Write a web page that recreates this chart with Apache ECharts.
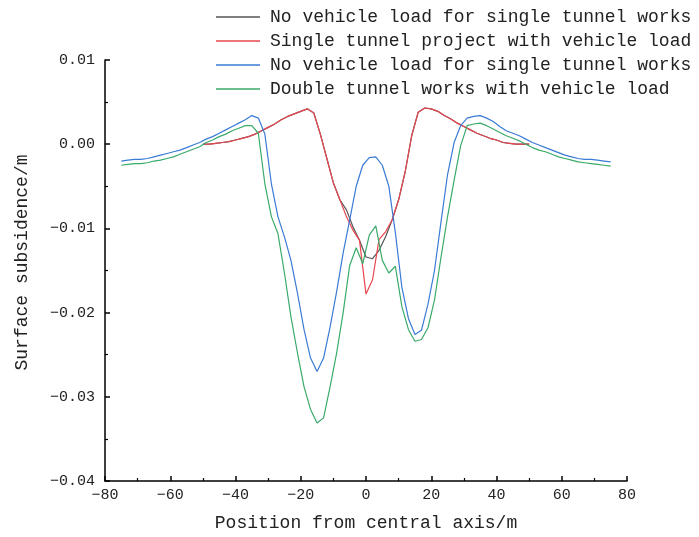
<!DOCTYPE html>
<html>
<head>
<meta charset="utf-8">
<script src="https://cdn.jsdelivr.net/npm/echarts@6/dist/echarts.min.js"></script>
<style>
  html, body { margin: 0; padding: 0; background: #fff; }
  #chart { width: 699px; height: 537px; }
</style>
</head>
<body>
<div id="chart"></div>
<script>
// x positions (m)
const xSingle = [];
for (let x = -50; x <= 50; x += 2) xSingle.push(x);
const xDouble = [];
for (let x = -75; x <= 75; x += 2) xDouble.push(x);

// single tunnel, no vehicle load (black)
const singleNoLoad = [
  0.0000, 0.0000, 0.0001, 0.0002, 0.0003, 0.0005, 0.0007, 0.0009, 0.0012, 0.0016,
  0.0020, 0.0024, 0.0029, 0.0033, 0.0036, 0.0039, 0.0042, 0.0037, 0.0012, -0.0017,
  -0.0046, -0.0066, -0.0078, -0.0098, -0.0114, -0.0134, -0.0136, -0.0126, -0.0110, -0.0090,
  -0.0066, -0.0033, 0.0010, 0.0038, 0.0043, 0.0042, 0.0039, 0.0034, 0.0030, 0.0025,
  0.0021, 0.0017, 0.0013, 0.0010, 0.0007, 0.0005, 0.0002, 0.0001, 0.0000, 0.0000,
  0.0000
];
// single tunnel, with vehicle load (red)
const singleLoad = [
  0.0000, 0.0000, 0.0001, 0.0002, 0.0003, 0.0005, 0.0007, 0.0009, 0.0012, 0.0016,
  0.0020, 0.0024, 0.0029, 0.0033, 0.0036, 0.0039, 0.0042, 0.0037, 0.0012, -0.0017,
  -0.0046, -0.0066, -0.0086, -0.0102, -0.0114, -0.0178, -0.0161, -0.0113, -0.0104, -0.0090,
  -0.0066, -0.0033, 0.0010, 0.0038, 0.0043, 0.0042, 0.0039, 0.0034, 0.0030, 0.0025,
  0.0021, 0.0017, 0.0013, 0.0010, 0.0007, 0.0005, 0.0002, 0.0001, 0.0000, 0.0000,
  0.0000
];
// double tunnel, no vehicle load (blue)
const doubleNoLoad = [
  -0.0020, -0.0019, -0.0018, -0.0018, -0.0017, -0.0015, -0.0013, -0.0011, -0.0009, -0.0007,
  -0.0004, -0.0001, 0.0002, 0.0006, 0.0009, 0.0013, 0.0017, 0.0021, 0.0025, 0.0029,
  0.0034, 0.0031, 0.0012, -0.0047, -0.0086, -0.0110, -0.0138, -0.0177, -0.0220, -0.0254,
  -0.0270, -0.0254, -0.0217, -0.0175, -0.0129, -0.0090, -0.0050, -0.0025, -0.0016, -0.0015,
  -0.0025, -0.0050, -0.0105, -0.0170, -0.0207, -0.0226, -0.0221, -0.0190, -0.0150, -0.0092,
  -0.0036, 0.0002, 0.0022, 0.0031, 0.0033, 0.0034, 0.0031, 0.0027, 0.0021, 0.0016,
  0.0013, 0.0010, 0.0006, 0.0002, -0.0001, -0.0004, -0.0007, -0.0010, -0.0013, -0.0015,
  -0.0017, -0.0018, -0.0018, -0.0019, -0.0020, -0.0021
];
// double tunnel, with vehicle load (green)
const doubleLoad = [
  -0.0025, -0.0024, -0.0023, -0.0023, -0.0022, -0.0020, -0.0019, -0.0017, -0.0015, -0.0012,
  -0.0009, -0.0006, -0.0003, 0.0002, 0.0005, 0.0009, 0.0012, 0.0016, 0.0019, 0.0022,
  0.0022, 0.0013, -0.0047, -0.0086, -0.0106, -0.0153, -0.0205, -0.0248, -0.0288, -0.0315,
  -0.0331, -0.0325, -0.0288, -0.0248, -0.0200, -0.0144, -0.0123, -0.0142, -0.0108, -0.0097,
  -0.0138, -0.0153, -0.0145, -0.0193, -0.0220, -0.0234, -0.0232, -0.0218, -0.0185, -0.0134,
  -0.0086, -0.0043, -0.0002, 0.0022, 0.0024, 0.0025, 0.0022, 0.0018, 0.0014, 0.0010,
  0.0007, 0.0004, 0.0000, -0.0004, -0.0007, -0.0009, -0.0012, -0.0015, -0.0017, -0.0019,
  -0.0021, -0.0022, -0.0023, -0.0024, -0.0025, -0.0026
];

const seriesNames = [
  "No vehicle load for single tunnel works",
  "Single tunnel project with vehicle load",
  "No vehicle load for single tunnel works ",
  "Double tunnel works with vehicle load"
];
const colors = ["#555555", "#e8474f", "#3a7bd5", "#3aaa6a"];

const font = "Liberation Mono";
const zip = (xs, ys) => xs.map((x, i) => [x, ys[i]]);

const myChart = echarts.init(document.getElementById("chart"));
const axisCommon = {
  axisLine: { show: true, onZero: false, lineStyle: { color: "#000", width: 1.5 } },
  axisTick: { show: true, inside: true, length: 5, lineStyle: { color: "#000", width: 1.5 } },
  minorTick: { show: true, splitNumber: 2, length: 3, lineStyle: { color: "#000", width: 1.2 } },
  splitLine: { show: false },
  nameLocation: "middle"
};

const option = {
  animation: false,
  grid: { left: 105, right: 72, top: 60, bottom: 56 },
  legend: {
    orient: "vertical",
    left: 216,
    top: 8,
    padding: 0,
    icon: "rect",
    itemWidth: 44,
    itemHeight: 1.5,
    itemGap: 6,
    textStyle: { fontFamily: font, fontSize: 18, color: "#222", lineHeight: 18, padding: [0, 0, 0, 5] },
    data: seriesNames
  },
  xAxis: Object.assign({}, axisCommon, {
    type: "value",
    min: -80,
    max: 80,
    interval: 20,
    name: "Position from central axis/m",
    nameGap: 33,
    nameTextStyle: { fontFamily: font, fontSize: 18, color: "#222" },
    axisLabel: { fontFamily: font, fontSize: 15, color: "#222", margin: 7,
      formatter: v => String(v).replace("-", "\u2212") }
  }),
  yAxis: Object.assign({}, axisCommon, {
    type: "value",
    min: -0.04,
    max: 0.01,
    interval: 0.01,
    name: "Surface subsidence/m",
    nameGap: 74,
    nameTextStyle: { fontFamily: font, fontSize: 18, color: "#222", padding: [0, 0, 0, 16] },
    axisLabel: { fontFamily: font, fontSize: 15, color: "#222", margin: 10,
      formatter: v => v.toFixed(2).replace("-", "\u2212") }
  }),
  series: [
    { name: seriesNames[0], data: zip(xSingle, singleNoLoad) },
    { name: seriesNames[1], data: zip(xSingle, singleLoad) },
    { name: seriesNames[2], data: zip(xDouble, doubleNoLoad) },
    { name: seriesNames[3], data: zip(xDouble, doubleLoad) }
  ].map((s, i) => Object.assign(s, {
    type: "line",
    symbol: "none",
    color: colors[i],
    lineStyle: { color: colors[i], width: 1.2 },
    z: i === 0 ? 1 : 2
  }))
};

myChart.setOption(option);
</script>
</body>
</html>
